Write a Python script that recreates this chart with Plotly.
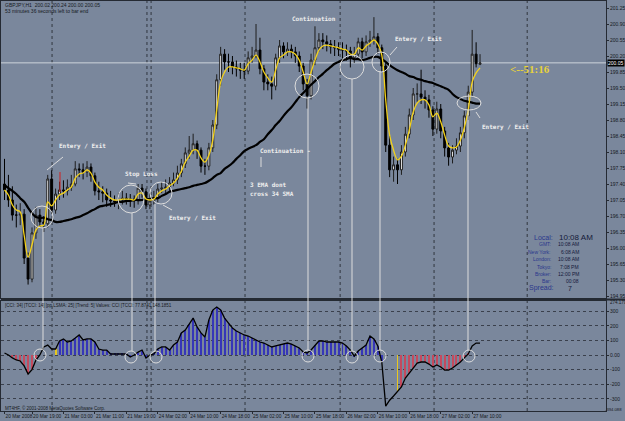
import plotly.graph_objects as go

W, H = 625, 421
ML, MR, MT, MB = 1, 19, 1, 10

# ---------------- data ----------------
bars = list(range(122))

opens = [197.40, 197.27, 197.05, 196.72, 196.72, 196.74, 195.78, 195.32, 196.33, 196.72,
         196.57, 196.53, 197.51, 196.83, 197.18, 197.27, 197.25, 197.33, 197.40, 197.73,
         197.71, 197.66, 197.77, 197.58, 197.25, 197.23, 197.20, 197.05, 197.03, 197.01,
         197.05, 197.09, 197.07, 197.07, 197.03, 197.31, 197.23, 196.94, 197.03, 197.09,
         197.29, 197.31, 197.33, 197.42, 197.49, 197.64, 197.84, 198.08, 198.14, 198.28,
         198.14, 197.79, 197.79, 198.19, 198.69, 199.68, 200.24, 200.07, 200.07, 199.96,
         199.92, 199.89, 199.87, 200.16, 200.20, 200.33, 199.92, 199.63, 199.59, 199.54,
         200.16, 200.42, 200.29, 200.35, 200.29, 200.20, 199.98, 199.59, 199.33, 200.11,
         200.38, 200.55, 200.51, 200.46, 200.40, 200.38, 200.35, 200.33, 200.31, 200.16,
         200.24, 200.51, 200.29, 200.51, 200.55, 200.62, 200.38, 199.98, 198.25, 197.71,
         197.82, 197.71, 198.10, 198.49, 198.91, 199.37, 199.37, 199.30, 199.24, 199.02,
         198.60, 199.04, 198.56, 198.19, 197.99, 198.14, 198.23, 198.52, 198.89, 199.41,
         200.24, 200.02]

closes = [197.27, 197.05, 196.72, 196.72, 196.74, 195.78, 195.32, 196.33, 196.72, 196.57,
          196.53, 197.51, 196.83, 197.18, 197.27, 197.25, 197.33, 197.40, 197.73, 197.71,
          197.66, 197.77, 197.58, 197.25, 197.23, 197.20, 197.05, 197.03, 197.01, 197.05,
          197.09, 197.07, 197.07, 197.03, 197.31, 197.23, 196.94, 197.03, 197.09, 197.29,
          197.31, 197.33, 197.42, 197.49, 197.64, 197.84, 198.08, 198.14, 198.28, 198.14,
          197.79, 197.79, 198.19, 198.69, 199.68, 200.24, 200.07, 200.07, 199.96, 199.92,
          199.89, 199.87, 200.16, 200.20, 200.33, 199.92, 199.63, 199.59, 199.54, 200.16,
          200.42, 200.29, 200.35, 200.29, 200.20, 199.98, 199.59, 199.33, 200.11, 200.38,
          200.55, 200.51, 200.46, 200.40, 200.38, 200.35, 200.33, 200.31, 200.16, 200.24,
          200.51, 200.29, 200.51, 200.55, 200.62, 200.38, 199.98, 198.25, 197.71, 197.82,
          197.71, 198.10, 198.49, 198.91, 199.37, 199.37, 199.30, 199.24, 199.02, 198.60,
          199.04, 198.56, 198.19, 197.99, 198.14, 198.23, 198.52, 198.89, 199.41, 200.24,
          200.03, 200.05]

highs = [197.95, 197.60, 197.35, 196.95, 196.98, 196.85, 195.90, 196.45, 196.90, 196.85,
         196.70, 197.60, 197.70, 197.30, 197.45, 197.48, 197.50, 197.60, 197.90, 197.85,
         197.85, 197.90, 197.85, 197.65, 197.45, 197.35, 197.30, 197.25, 197.15, 197.20,
         197.25, 197.20, 197.18, 197.15, 197.40, 197.40, 197.30, 197.20, 197.25, 197.40,
         197.45, 197.50, 197.55, 197.65, 197.80, 197.95, 198.20, 198.45, 198.50, 198.35,
         198.20, 197.95, 198.30, 198.80, 199.80, 200.40, 200.35, 200.25, 200.20, 200.10,
         200.05, 200.05, 200.30, 200.40, 200.90, 200.60, 200.00, 199.80, 199.75, 200.25,
         200.55, 200.50, 200.50, 200.45, 200.40, 200.30, 200.05, 199.70, 200.25, 200.85,
         200.70, 200.70, 200.65, 200.55, 200.55, 200.50, 200.50, 200.45, 200.40, 200.40,
         200.60, 200.60, 200.65, 200.75, 201.05, 200.70, 200.45, 200.05, 198.45, 198.00,
         197.95, 198.25, 198.65, 199.05, 199.50, 199.60, 199.90, 199.45, 199.35, 199.10,
         199.20, 199.15, 198.65, 198.30, 198.25, 198.40, 198.65, 199.00, 199.55, 200.77,
         200.50, 200.24]

lows = [197.05, 196.90, 196.60, 196.45, 196.50, 195.65, 195.20, 195.25, 196.20, 196.45,
        196.35, 196.45, 196.75, 196.75, 197.05, 197.10, 197.15, 197.25, 197.35, 197.55,
        197.50, 197.55, 197.45, 197.15, 197.05, 197.00, 196.90, 196.90, 196.90, 196.85,
        196.95, 196.95, 196.90, 196.88, 196.95, 197.10, 196.85, 196.85, 196.95, 197.00,
        197.20, 197.20, 197.25, 197.35, 197.40, 197.55, 197.75, 197.95, 198.05, 197.95,
        197.65, 197.60, 197.70, 198.10, 198.60, 199.55, 199.90, 199.85, 199.80, 199.75,
        199.70, 199.70, 199.80, 200.05, 200.15, 199.80, 199.45, 199.45, 199.25, 199.45,
        200.05, 200.15, 200.20, 200.15, 200.05, 199.85, 199.45, 199.05, 199.25, 200.00,
        200.30, 200.35, 200.30, 200.25, 200.20, 200.20, 200.15, 200.10, 199.95, 200.05,
        200.15, 200.15, 200.20, 200.40, 200.45, 200.25, 199.85, 198.10, 197.55, 197.45,
        197.40, 197.60, 198.00, 198.40, 198.80, 199.20, 199.15, 199.05, 198.85, 198.45,
        198.50, 198.40, 198.00, 197.80, 197.85, 198.05, 198.10, 198.40, 198.80, 199.30,
        199.95, 200.00]

ema3 = [197.27, 197.16, 196.94, 196.83, 196.79, 196.28, 195.80, 196.07, 196.39, 196.48,
        196.50, 197.01, 196.92, 197.05, 197.16, 197.20, 197.27, 197.33, 197.53, 197.62,
        197.64, 197.71, 197.64, 197.44, 197.33, 197.27, 197.16, 197.09, 197.05, 197.05,
        197.07, 197.07, 197.07, 197.05, 197.18, 197.20, 197.07, 197.05, 197.07, 197.18,
        197.25, 197.29, 197.36, 197.42, 197.53, 197.68, 197.88, 198.01, 198.14, 198.14,
        197.97, 197.88, 198.03, 198.36, 199.02, 199.63, 199.85, 199.96, 199.96, 199.94,
        199.92, 199.89, 200.03, 200.11, 200.22, 200.07, 199.85, 199.72, 199.63, 199.89,
        200.16, 200.22, 200.29, 200.29, 200.24, 200.11, 199.85, 199.59, 199.85, 200.11,
        200.33, 200.42, 200.44, 200.42, 200.40, 200.38, 200.35, 200.33, 200.24, 200.24,
        200.38, 200.33, 200.42, 200.48, 200.55, 200.46, 200.22, 199.24, 198.47, 198.14,
        197.93, 198.01, 198.25, 198.58, 198.97, 199.17, 199.24, 199.24, 199.13, 198.87,
        198.95, 198.76, 198.47, 198.23, 198.19, 198.21, 198.36, 198.63, 199.02, 199.63,
        199.83, 199.94]

sma34 = [197.38, 197.31, 197.25, 197.18, 197.09, 197.01, 196.88, 196.76, 196.68, 196.66,
         196.66, 196.63, 196.61, 196.57, 196.57, 196.59, 196.61, 196.63, 196.66, 196.68,
         196.72, 196.76, 196.81, 196.85, 196.90, 196.92, 196.94, 196.96, 196.98, 197.01,
         197.01, 197.03, 197.03, 197.05, 197.05, 197.05, 197.07, 197.07, 197.09, 197.09,
         197.14, 197.18, 197.23, 197.25, 197.27, 197.29, 197.31, 197.33, 197.36, 197.38,
         197.40, 197.42, 197.47, 197.53, 197.60, 197.64, 197.73, 197.79, 197.86, 197.95,
         198.03, 198.12, 198.17, 198.21, 198.25, 198.32, 198.38, 198.49, 198.58, 198.69,
         198.78, 198.89, 198.99, 199.08, 199.19, 199.30, 199.39, 199.48, 199.57, 199.65,
         199.74, 199.81, 199.89, 199.96, 200.03, 200.07, 200.11, 200.13, 200.16, 200.13,
         200.13, 200.11, 200.13, 200.16, 200.18, 200.18, 200.13, 200.07, 200.00, 199.94,
         199.89, 199.85, 199.81, 199.76, 199.74, 199.70, 199.68, 199.65, 199.63, 199.61,
         199.57, 199.54, 199.50, 199.46, 199.37, 199.30, 199.26, 199.22, 199.20, 199.18,
         199.16, 199.16]

cci = [14, 0, -20, -34, -41, -75, -130, -100, -35, 0,
       55, 68, 41, 41, 96, 110, 89, 96, 116, 137,
       103, 110, 110, 89, 41, 34, 34, 7, 7, 7,
       7, 7, -14, 0, 20, 34, -20, 0, 7, 41,
       55, 55, 34, 68, 89, 151, 171, 212, 253, 192,
       151, 123, 240, 308, 329, 308, 253, 219, 185, 164,
       151, 137, 130, 116, 103, 89, 82, 68, 55, 62,
       68, 75, 82, 75, 62, 48, 21, 14, 34, 68,
       96, 96, 89, 89, 89, 89, 82, 62, 34, -7,
       27, 48, 68, 130, 110, 62, -48, -350, -310, -281,
       -253, -219, -158, -123, -89, -55, -48, -48, -62, -82,
       -68, -82, -103, -103, -89, -68, -48, -20, 7, 62,
       82, 82]

# trend state of the histogram: 1 up (blue), -1 down (red), 2 change (yellow), 0 none
trend = [0, 0, -1, -1, -1, -1, -1, -1, -1, 0,
         0, 0, 0, 2, 1, 1, 1, 1, 1, 1,
         1, 1, 1, 1, 1, 1, 1, 1, 1, 1,
         1, 1, 1, 1, 1, 1, 1, 1, 1, 1,
         1, 1, 1, 1, 1, 1, 1, 1, 1, 1,
         1, 1, 1, 1, 1, 1, 1, 1, 1, 1,
         1, 1, 1, 1, 1, 1, 1, 1, 1, 1,
         1, 1, 1, 1, 1, 1, 1, 1, 1, 1,
         1, 1, 1, 1, 1, 1, 1, 1, 1, 1,
         1, 1, 1, 1, 1, 1, 1, 0, 0, 0,
         2, -1, -1, -1, -1, -1, -1, -1, -1, -1,
         -1, -1, -1, -1, -1, -1, -1, -1, -1, 0,
         0, 0]

tick_bars = [0, 7, 15, 23, 31, 39, 47, 55, 63, 71, 79, 87, 95, 103, 111, 119]
tick_labels = ["20 Mar 2008", "20 Mar 19:00", "21 Mar 03:00", "21 Mar 11:00", "21 Mar 19:00",
               "24 Mar 02:00", "24 Mar 10:00", "24 Mar 18:00", "25 Mar 02:00", "25 Mar 10:00",
               "25 Mar 18:00", "26 Mar 02:00", "26 Mar 10:00", "26 Mar 18:00", "27 Mar 02:00",
               "27 Mar 10:00"]
day_separators = [12.1, 36.25, 37.3, 61.2, 85.4, 109.3, 133.0]
price_ticks = [201.25, 200.90, 200.55, 200.20, 199.85, 199.50, 199.15, 198.80, 198.45, 198.10,
               197.75, 197.40, 197.05, 196.70, 196.35, 196.00, 195.65, 195.30, 194.95]
cci_ticks = [300, 200, 100, 0, -100, -200, -300]
cci_tick_text = ["300", "200", "100", "0.00", "-100", "-200", "-300"]
last_price = 200.05

# ---------------- styling ----------------
BG = "#7a879c"
AX = "#252a33"
DARK = "#161a22"
WH = "#eeeeee"
SANS = "Liberation Sans, Arial, sans-serif"
MONO = "DejaVu Sans Mono, monospace"

PW = W - ML - MR
PH = H - MT - MB


def px(x):
    return (x - ML) / PW


def py(y):
    return (H - MB - y) / PH


fig = go.Figure()
fig.add_trace(go.Candlestick(
    x=bars, open=opens, high=highs, low=lows, close=closes,
    increasing=dict(line=dict(color="#1e1e1e", width=1), fillcolor="#f0f0f0"),
    decreasing=dict(line=dict(color="#000000", width=1), fillcolor="#000000"),
    whiskerwidth=0, xaxis="x", yaxis="y", hoverinfo="skip"))
fig.add_trace(go.Scatter(x=bars, y=sma34, mode="lines",
                         line=dict(color="#000000", width=2.2, shape="spline"),
                         xaxis="x", yaxis="y"))
fig.add_trace(go.Scatter(x=bars, y=ema3, mode="lines",
                         line=dict(color="#f4d21a", width=1.3, shape="spline"),
                         xaxis="x", yaxis="y"))

hist_palette = {1: "#3636b8", -1: "#c44a5e", 2: "#e8c81e"}
hx = [b for b, t in zip(bars, trend) if t != 0]
hy = [v for v, t in zip(cci, trend) if t != 0]
hc = [hist_palette[t] for t in trend if t != 0]
fig.add_trace(go.Bar(x=hx, y=hy, width=0.25, marker=dict(color=hc, line=dict(width=0)),
                     xaxis="x2", yaxis="y2"))
fig.add_trace(go.Scatter(x=bars, y=cci, mode="lines",
                         line=dict(color="#000000", width=1.3),
                         xaxis="x2", yaxis="y2"))

xr = [-0.89, 153.05]
main_dom = [py(298), 1.0]
ind_dom = [0.0, py(301)]
y_main = [201.425 - 0.021875 * 298, 201.425 - 0.021875 * 1]
y_ind = [(355 - 411) / 0.146, (355 - 301) / 0.146]

fig.update_layout(
    width=W, height=H, margin=dict(l=ML, r=MR, t=MT, b=MB, autoexpand=False),
    paper_bgcolor=BG, plot_bgcolor=BG, showlegend=False, bargap=0,
    xaxis=dict(domain=[0, 1], range=xr, anchor="y", showticklabels=False, showgrid=False,
               zeroline=False, showline=True, mirror=True, linecolor=AX, linewidth=1,
               rangeslider=dict(visible=False), ticks=""),
    yaxis=dict(domain=main_dom, range=y_main, side="right", anchor="x",
               tickvals=price_ticks, ticktext=[f"{v:.2f}" for v in price_ticks],
               ticks="outside", ticklen=2, tickcolor=AX,
               tickfont=dict(size=5, color=DARK, family=SANS),
               showgrid=False, zeroline=False, showline=True, mirror=True,
               linecolor=AX, linewidth=1, automargin=False),
    xaxis2=dict(domain=[0, 1], range=xr, anchor="y2", tickvals=tick_bars, ticktext=tick_labels,
                ticklabelposition="outside right", tickangle=0, ticks="outside", ticklen=2,
                tickcolor=AX, tickfont=dict(size=4.8, color=DARK, family=SANS),
                showgrid=False, zeroline=False, showline=True, mirror=True,
                linecolor=AX, linewidth=1, automargin=False),
    yaxis2=dict(domain=ind_dom, range=y_ind, side="right", anchor="x2",
                tickvals=cci_ticks, ticktext=cci_tick_text,
                ticks="outside", ticklen=2, tickcolor=AX,
                tickfont=dict(size=5, color=DARK, family=SANS),
                showgrid=True, gridcolor="#3a404c", griddash="dot", gridwidth=1,
                zeroline=False, showline=True, mirror=True, linecolor=AX, linewidth=1,
                automargin=False),
)

shapes = []
# day separators
for d in day_separators:
    shapes.append(dict(type="line", xref="x", yref="paper", x0=d, x1=d, y0=0, y1=1,
                       line=dict(color="#30363f", width=1, dash="dot"), layer="below"))
# current price line
shapes.append(dict(type="line", xref="paper", yref="y", x0=0, x1=1, y0=last_price, y1=last_price,
                   line=dict(color="#cdd3dc", width=1), layer="below"))
# pane separator
shapes.append(dict(type="line", xref="paper", yref="paper", x0=0, x1=1 + 19 / PW,
                   y0=py(299.5), y1=py(299.5), line=dict(color=AX, width=2)))
# small red mark
shapes.append(dict(type="line", xref="paper", yref="paper", x0=px(60), x1=px(60),
                   y0=py(172), y1=py(192), line=dict(color="#d02020", width=1)))

CIRC = "#dcdcdc"
main_circles = [(42, 217, 11, 11), (131, 199, 13, 14), (161, 193, 11, 11), (307, 86, 12, 12),
                (352, 67, 12, 12), (381, 62, 9, 10), (469, 103, 12, 7)]
for cx, cy, rx, ry in main_circles:
    shapes.append(dict(type="circle", xref="paper", yref="paper",
                       x0=px(cx - rx), x1=px(cx + rx), y0=py(cy + ry), y1=py(cy - ry),
                       line=dict(color=CIRC, width=1)))
ind_circles = [(40, 355), (131, 357), (156, 357), (308, 356), (352, 357), (380, 356), (469, 356)]
for cx, cy in ind_circles:
    shapes.append(dict(type="circle", xref="paper", yref="paper",
                       x0=px(cx - 6), x1=px(cx + 6), y0=py(cy + 6), y1=py(cy - 6),
                       line=dict(color=CIRC, width=1)))
vlines = [(43, 228, 349), (132, 213, 351), (155, 204, 351), (308, 98, 350),
          (352, 79, 351), (380, 71, 350), (468, 110, 350)]
for x, y0, y1 in vlines:
    shapes.append(dict(type="line", xref="paper", yref="paper", x0=px(x), x1=px(x),
                       y0=py(y0), y1=py(y1), line=dict(color=CIRC, width=1)))
leaders = [(47, 170, 63, 157), (163, 205, 172, 210), (390, 55, 397, 47), (476, 112, 480, 118),
           (261, 157, 261, 167), (128, 183, 136, 184)]
for x0, y0, x1, y1 in leaders:
    shapes.append(dict(type="line", xref="paper", yref="paper", x0=px(x0), x1=px(x1),
                       y0=py(y0), y1=py(y1), line=dict(color=CIRC, width=1)))
fig.update_layout(shapes=shapes)

ann = []


def text(t, x, y, size=6, color=WH, anchor="left", family=MONO, bold=True):
    ann.append(dict(text=(f"<b>{t}</b>" if bold else t), xref="paper", yref="paper",
                    x=px(x), y=py(y), xanchor=anchor, yanchor="middle", showarrow=False,
                    font=dict(size=size, color=color, family=family)))


text("Entery / Exit", 57, 146)
text("Stop Loss", 123, 174)
text("Entery / Exit", 167, 218)
text("Continuation", 290, 18)
text("Continuation -", 258, 150)
text("3 EMA dont", 248, 185)
text("cross 34 SMA", 248, 193)
text("Entery / Exit", 393, 39)
text("Entery / Exit", 480, 127)
text("&lt;--51:16", 508, 69, size=11, color="#e8d23a", family="Liberation Serif, serif")

text("GBPJPY,H1  200.02 200.24 200.00 200.05", 3, 5, size=5, color=DARK, family=SANS, bold=False)
text("53 minutes 36 seconds left to bar end", 3, 11, size=5, color=DARK, family=SANS, bold=False)
text("[CCI: 34] [TCCI: 14] [pp LSMA: 25] [Trend: 5] Values: CCI [TCCI: 77.8741 148.1851",
     3, 305, size=4.5, color=DARK, family=SANS, bold=False)
text("MT4HF, \u00a9 2001-2008 MetaQuotes Software Corp.", 3, 408, size=4.5, color=DARK,
     family=SANS, bold=False)

LBL = "#2a378c"
VAL = "#151a3a"
text("Local:", 555, 237, size=7, color=LBL, anchor="right", family=SANS, bold=False)
text("10:08 AM", 557, 237, size=8, color=VAL, anchor="left", family=SANS, bold=False)
info = [("GMT:", "10:08 AM", 244), ("New York:", "6:08 AM", 252), ("London:", "10:08 AM", 259),
        ("Tokyo:", "7:08 PM", 267), ("Broker:", "12:00 PM", 274), ("Bar:", "00:08", 281)]
for lab, val, y in info:
    text(lab, 553, y, size=5, color=LBL, anchor="right", family=SANS, bold=False)
    text(val, 581, y, size=5, color=VAL, anchor="right", family=SANS, bold=False)
text("Spread:", 556, 288, size=7, color=LBL, anchor="right", family=SANS, bold=False)
text("7", 570, 288, size=7, color=VAL, anchor="center", family=SANS, bold=False)

# current price box and min/max of the indicator window
ann.append(dict(text="200.05", xref="paper", yref="y", x=1, y=last_price, xanchor="left",
                yanchor="middle", xshift=1, showarrow=False, bgcolor="#000000", borderpad=0,
                font=dict(size=5, color="#ffffff", family=SANS)))
text("274.179", 608, 302, size=4.5, color=DARK, family=SANS, bold=False)
text("-394.088", 624, 409, size=4.2, color=DARK, anchor="right", family=SANS, bold=False)

fig.update_layout(annotations=ann)
fig.write_html("out.html")
